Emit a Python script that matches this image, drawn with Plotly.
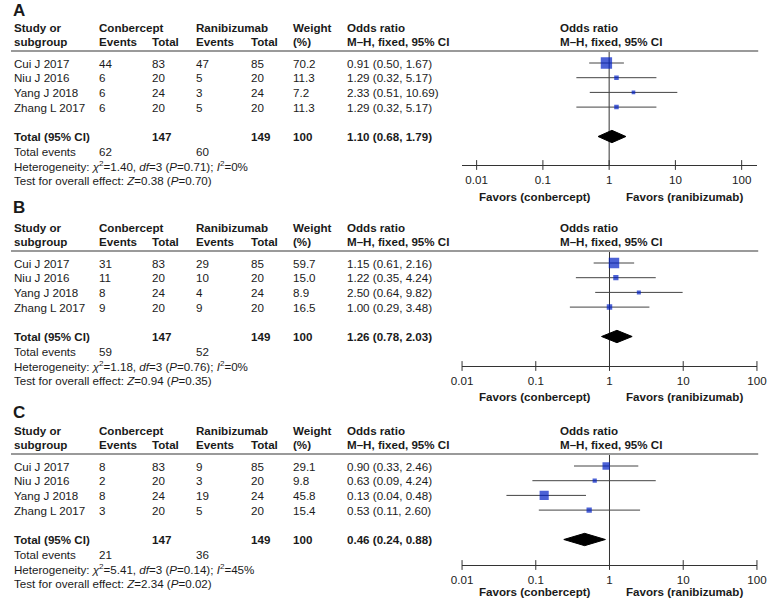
import math
import plotly.graph_objects as go

W, H = 775, 604
SP = 14.7  # row spacing in px
FONT = "Liberation Sans, Arial, sans-serif"
FS = 11.6
TXT = "#1a1a1a"
BLUE = "#0020c4"

studies = ["Cui J 2017", "Niu J 2016", "Yang J 2018", "Zhang L 2017"]
conb_total = [83, 20, 24, 20]
rani_total = [85, 20, 24, 20]

# Panel A
conb_events_A = [44, 6, 6, 6]
rani_events_A = [47, 5, 3, 5]
weight_A = [70.2, 11.3, 7.2, 11.3]
or_A = [0.91, 1.29, 2.33, 1.29]
lo_A = [0.50, 0.32, 0.51, 0.32]
hi_A = [1.67, 5.17, 10.69, 5.17]
total_A = [1.10, 0.68, 1.79]
tot_events_A = [62, 60]
het_A = ["1.40", "3", "0.71", "0%"]
test_A = ["0.38", "0.70"]

# Panel B
conb_events_B = [31, 11, 8, 9]
rani_events_B = [29, 10, 4, 9]
weight_B = [59.7, 15.0, 8.9, 16.5]
or_B = [1.15, 1.22, 2.50, 1.00]
lo_B = [0.61, 0.35, 0.64, 0.29]
hi_B = [2.16, 4.24, 9.82, 3.48]
total_B = [1.26, 0.78, 2.03]
tot_events_B = [59, 52]
het_B = ["1.18", "3", "0.76", "0%"]
test_B = ["0.94", "0.35"]

# Panel C
conb_events_C = [8, 2, 8, 3]
rani_events_C = [9, 3, 19, 5]
weight_C = [29.1, 9.8, 45.8, 15.4]
or_C = [0.90, 0.63, 0.13, 0.53]
lo_C = [0.33, 0.09, 0.04, 0.11]
hi_C = [2.46, 4.24, 0.48, 2.60]
total_C = [0.46, 0.24, 0.88]
tot_events_C = [21, 36]
het_C = ["5.41", "3", "0.14", "45%"]
test_C = ["2.34", "0.02"]

tick_vals = [0.01, 0.1, 1, 10, 100]
tick_text = ["0.01", "0.1", "1", "10", "100"]

panels = [
    dict(label="A", ce=conb_events_A, re=rani_events_A, w=weight_A, o=or_A, lo=lo_A, hi=hi_A,
         tot=total_A, te=tot_events_A, het=het_A, test=test_A,
         base=63, axis=165, favors=196, lab=10, xr=[-2.22, 2.235]),
    dict(label="B", ce=conb_events_B, re=rani_events_B, w=weight_B, o=or_B, lo=lo_B, hi=hi_B,
         tot=total_B, te=tot_events_B, het=het_B, test=test_B,
         base=263, axis=366, favors=396, lab=207, xr=[-2.0, 2.004]),
    dict(label="C", ce=conb_events_C, re=rani_events_C, w=weight_C, o=or_C, lo=lo_C, hi=hi_C,
         tot=total_C, te=tot_events_C, het=het_C, test=test_C,
         base=466, axis=565, favors=591, lab=412, xr=[-2.0, 2.004]),
]

COLS = dict(study=2, ce=89, ct=144, re=189, rt=245, w=288, orc=344)
PLOT_X0, PLOT_X1 = 463, 766
FAV_L, FAV_R = 538, 691
RH_X = 563

fig = go.Figure()
annotations = []
shapes = []
layout_axes = {}


def ann(x_px, row, text, yref, bold=False, size=FS, xanchor="left"):
    if bold:
        text = "<b>" + text + "</b>"
    annotations.append(dict(
        x=x_px / W, xref="paper", y=row, yref=yref, text=text, showarrow=False,
        xanchor=xanchor, yanchor="middle", font=dict(family=FONT, size=size, color=TXT),
        borderpad=0,
    ))


for i, p in enumerate(panels):
    n = i + 2
    xa, ya = f"x{n}", f"y{n}"
    base = p["base"]
    ax_row = (p["axis"] - base) / SP

    layout_axes[f"yaxis{n}"] = dict(
        domain=[0, 1], range=[(H - base) / SP, -base / SP], overlaying="y",
        visible=False, fixedrange=True,
    )
    layout_axes[f"xaxis{n}"] = dict(
        domain=[PLOT_X0 / W, PLOT_X1 / W], anchor="free", position=1 - p["axis"] / H,
        type="log", range=p["xr"], showline=True, linecolor="#333", linewidth=1,
        ticks="", tickmode="array", tickvals=tick_vals, ticktext=tick_text,
        tickfont=dict(family=FONT, size=FS, color=TXT), showgrid=False, zeroline=False,
        fixedrange=True, ticklabelstandoff=4, ticklabeloverflow="allow",
    )

    # panel label
    ann(1, (p["lab"] - base) / SP, p["label"], ya, bold=True, size=17)

    # header rows
    r1, r2 = -36 / SP, -22 / SP
    ann(COLS["study"], r1, "Study or", ya, bold=True)
    ann(COLS["study"], r2, "subgroup", ya, bold=True)
    ann(COLS["ce"], r1, "Conbercept", ya, bold=True)
    ann(COLS["ce"], r2, "Events", ya, bold=True)
    ann(COLS["ct"], r2, "Total", ya, bold=True)
    ann(COLS["re"], r1, "Ranibizumab", ya, bold=True)
    ann(COLS["re"], r2, "Events", ya, bold=True)
    ann(COLS["rt"], r2, "Total", ya, bold=True)
    ann(COLS["w"], r1, "Weight", ya, bold=True)
    ann(COLS["w"], r2, "(%)", ya, bold=True)
    ann(COLS["orc"], r1, "Odds ratio", ya, bold=True)
    ann(COLS["orc"], r2, "M\u2013H, fixed, 95% CI", ya, bold=True)
    ann(RH_X, r1, "Odds ratio", ya, bold=True)
    ann(RH_X, r2, "M\u2013H, fixed, 95% CI", ya, bold=True)

    # header line
    shapes.append(dict(type="line", xref="paper", yref=ya, x0=0, x1=767 / W,
                       y0=-12 / SP, y1=-12 / SP, line=dict(color="#9a9a9a", width=2)))

    # study rows
    for k, s in enumerate(studies):
        ann(COLS["study"], k, s, ya)
        ann(COLS["ce"], k, str(p["ce"][k]), ya)
        ann(COLS["ct"], k, str(conb_total[k]), ya)
        ann(COLS["re"], k, str(p["re"][k]), ya)
        ann(COLS["rt"], k, str(rani_total[k]), ya)
        ann(COLS["w"], k, f"{p['w'][k]:.1f}", ya)
        ann(COLS["orc"], k, f"{p['o'][k]:.2f} ({p['lo'][k]:.2f}, {p['hi'][k]:.2f})", ya)

    # totals
    tr = 5
    ann(COLS["study"], tr, "Total (95% CI)", ya, bold=True)
    ann(COLS["ct"], tr, str(sum(conb_total)), ya, bold=True)
    ann(COLS["rt"], tr, str(sum(rani_total)), ya, bold=True)
    ann(COLS["w"], tr, "100", ya, bold=True)
    t = p["tot"]
    ann(COLS["orc"], tr, f"{t[0]:.2f} ({t[1]:.2f}, {t[2]:.2f})", ya, bold=True)
    ann(COLS["study"], 6, "Total events", ya)
    ann(COLS["ce"], 6, str(p["te"][0]), ya)
    ann(COLS["re"], 6, str(p["te"][1]), ya)
    h = p["het"]
    ann(COLS["study"], 7,
        f"Heterogeneity: <i>\u03c7</i><sup>2</sup>={h[0]}, <i>df</i>={h[1]} (<i>P</i>={h[2]}); <i>I</i><sup>2</sup>={h[3]}", ya)
    ts = p["test"]
    ann(COLS["study"], 8, f"Test for overall effect: <i>Z</i>={ts[0]} (<i>P</i>={ts[1]})", ya)

    # favors labels
    fr = (p["favors"] - base) / SP
    ann(FAV_L, fr, "Favors (conbercept)", ya, bold=True, xanchor="center")
    ann(FAV_R, fr, "Favors (ranibizumab)", ya, bold=True, xanchor="center")

    # null line
    fig.add_trace(go.Scatter(x=[1, 1], y=[-12 / SP, ax_row], mode="lines",
                             line=dict(color="#333", width=1), xaxis=xa, yaxis=ya,
                             hoverinfo="skip", showlegend=False))
    # axis ticks crossing the line
    fig.add_trace(go.Scatter(x=tick_vals, y=[ax_row] * len(tick_vals), mode="markers",
                             marker=dict(symbol="line-ns-open", size=7, color="#333",
                                         line=dict(color="#333", width=1)),
                             xaxis=xa, yaxis=ya, hoverinfo="skip", showlegend=False,
                             cliponaxis=False))
    # CI lines
    cx, cy = [], []
    for k in range(len(studies)):
        cx += [p["lo"][k], p["hi"][k], None]
        cy += [k, k, None]
    fig.add_trace(go.Scatter(x=cx, y=cy, mode="lines", line=dict(color="#444", width=1),
                             xaxis=xa, yaxis=ya, hoverinfo="skip", showlegend=False))
    # squares
    fig.add_trace(go.Scatter(x=p["o"], y=list(range(len(studies))), mode="markers",
                             marker=dict(symbol="square", color=BLUE,
                                         size=[max(3.2, 1.35 * math.sqrt(w)) for w in p["w"]],
                                         line=dict(width=0)),
                             xaxis=xa, yaxis=ya, showlegend=False))
    # diamond
    dh = 0.42
    fig.add_trace(go.Scatter(x=[t[1], t[0], t[2], t[0], t[1]],
                             y=[tr, tr - dh, tr, tr + dh, tr], mode="lines", fill="toself",
                             fillcolor="black", line=dict(color="black", width=1),
                             xaxis=xa, yaxis=ya, showlegend=False, hoverinfo="skip"))

fig.update_layout(
    width=W, height=H, autosize=False,
    margin=dict(l=0, r=0, t=0, b=0),
    paper_bgcolor="white", plot_bgcolor="rgba(0,0,0,0)",
    xaxis=dict(visible=False, range=[0, 1], fixedrange=True),
    yaxis=dict(visible=False, range=[0, 1], fixedrange=True),
    annotations=annotations, shapes=shapes, showlegend=False,
    **layout_axes,
)

fig.write_html("out.html", config={"displayModeBar": False},
               post_script="document.body.style.margin='0';document.body.style.overflow='hidden';")
